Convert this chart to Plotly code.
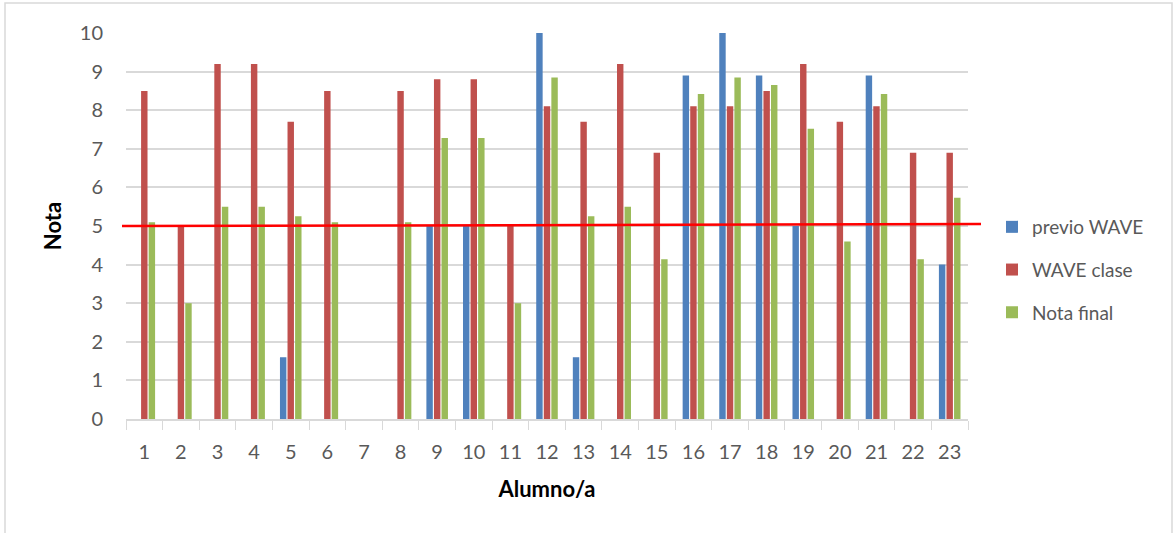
import plotly.graph_objects as go

alumnos = [str(i) for i in range(1, 24)]
previo_wave = [None, None, None, None, 1.6, None, None, None, 5, 5, None, 10, 1.6, None, None,
               8.9, 10, 8.9, 5, None, 8.9, None, 4]
wave_clase = [8.5, 5, 9.2, 9.2, 7.7, 8.5, None, 8.5, 8.8, 8.8, 5, 8.1, 7.7, 9.2, 6.9,
              8.1, 8.1, 8.5, 9.2, 7.7, 8.1, 6.9, 6.9]
nota_final = [5.1, 3, 5.5, 5.5, 5.25, 5.1, None, 5.1, 7.28, 7.28, 3, 8.85, 5.25, 5.5, 4.14,
              8.42, 8.85, 8.65, 7.52, 4.6, 8.42, 4.14, 5.73]
series_names = ["previo WAVE", "WAVE clase", "Nota final"]
colors = ["#4F81BD", "#C0504D", "#9BBB59"]
threshold_left = 5.0
threshold_right = 5.05
y_ticks = list(range(0, 11))

FONT = "Lato"
fig = go.Figure()
for name, vals, col in zip(series_names, [previo_wave, wave_clase, nota_final], colors):
    fig.add_trace(go.Bar(x=alumnos, y=vals, name=name, marker_color=col,
                         marker_line_width=0, legendgroup=name))

W, H = 1174, 533
L, R, T, B = 126, 206, 33, 114
pw, ph = W - L - R, H - T - B

def px_x(p):
    return (p - L) / pw

def px_y(p):
    return (H - B - p) / ph

fig.update_layout(
    width=W, height=H,
    margin=dict(l=L, r=R, t=T, b=B, autoexpand=False),
    paper_bgcolor="white", plot_bgcolor="white",
    barmode="group", bargap=0.38, bargroupgap=0.15,
    font=dict(family=FONT, size=20, color="#595959"),
    legend=dict(x=px_x(992), y=px_y(270), xanchor="left", yanchor="middle",
                font=dict(size=19, color="#595959"), tracegroupgap=15,
                traceorder="grouped", itemwidth=30),
    xaxis=dict(
        type="category", showgrid=False, showline=True, linecolor="#d9d9d9", linewidth=1.5,
        ticks="outside", tickson="boundaries", ticklen=9, tickcolor="#d9d9d9",
        tickfont=dict(size=20, color="#595959"), ticklabelstandoff=14, automargin=False,
        title=dict(text="<b>Alumno/a</b>", font=dict(size=22, color="black"), standoff=20),
    ),
    yaxis=dict(
        range=[0, 10], tickvals=y_ticks, showgrid=True, gridcolor="#d9d9d9", gridwidth=1.5,
        zeroline=False, showline=False, ticks="", ticklabelstandoff=22, automargin=False,
        tickfont=dict(size=20, color="#595959"),
        title=dict(text="<b>Nota</b>", font=dict(size=22, color="black"), standoff=12),
    ),
    shapes=[
        dict(type="line", xref="paper", yref="y", x0=px_x(122), x1=px_x(981),
             y0=threshold_left, y1=threshold_right, line=dict(color="#FF0000", width=2.5)),
        dict(type="rect", xref="paper", yref="paper", x0=px_x(5), x1=px_x(1172),
             y0=px_y(560), y1=px_y(3), line=dict(color="#d9d9d9", width=1.5),
             layer="below"),
    ],
)

fig.write_html("out.html", config={"displayModeBar": False},
               post_script="document.body.style.margin='0';")
